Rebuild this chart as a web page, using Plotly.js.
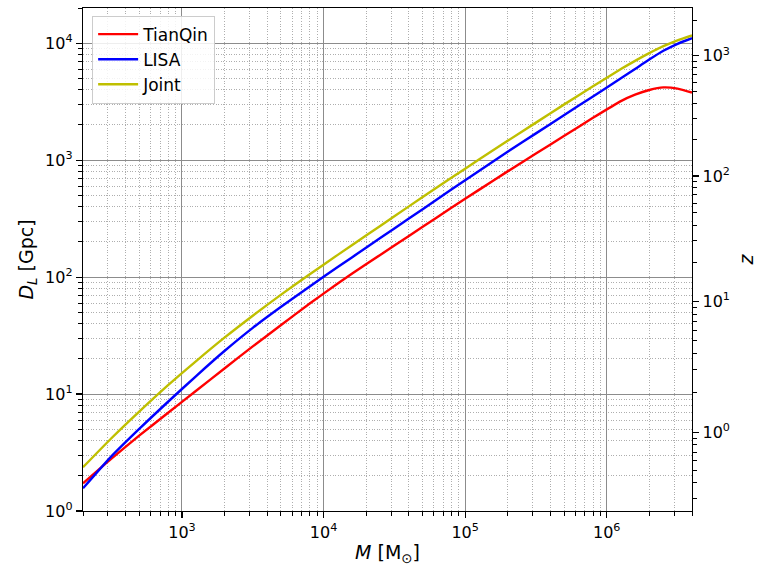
<!DOCTYPE html>
<html>
<head>
<meta charset="utf-8">
<script src="https://cdn.plot.ly/plotly-3.0.1.min.js"></script>
<style>html,body{margin:0;padding:0;background:#fff;}#chart{width:757px;height:566px;}</style>
</head>
<body>
<div id="chart"></div>
<script>
// Total mass M [solar masses]
const mass = [200, 316, 501, 794, 1259, 1995, 3162, 5012, 7943, 12590, 19950, 31620, 50120, 79430,
  125900, 199500, 316200, 501200, 794300, 1259000, 1585000, 1995000, 2512000, 3162000, 4000000];
// Horizon luminosity distance D_L [Gpc]
const tianqin = [1.726, 2.793, 4.432, 6.879, 10.67, 16.52, 25.59, 38.90, 59.16, 88.10, 128.8, 186.2, 269.2, 389.0,
  559.8, 801.7, 1138, 1614, 2291, 3199, 3631, 3981, 4188, 4093, 3784];
const lisa = [1.563, 2.917, 5.058, 8.551, 14.26, 23.33, 36.81, 55.72, 82.79, 121.9, 178.2, 260.6, 381.1, 557.2,
  812.8, 1180, 1694, 2432, 3491, 5012, 6026, 7244, 8610, 9886, 11041];
const joint = [2.366, 4.169, 7.112, 11.86, 19.14, 30.34, 46.77, 70.79, 105.2, 154.9, 226.5, 331.1, 484.2, 703.1,
  1016, 1462, 2094, 2999, 4256, 6012, 7063, 8222, 9441, 10593, 11668];

const seriesNames = ['TianQin', 'LISA', 'Joint'];
const seriesColors = ['#ff0000', '#0000ff', '#bfbf00'];

// tick labels
const xMajor = [1e3, 1e4, 1e5, 1e6];
const xMajorText = ['10<sup>3</sup>', '10<sup>4</sup>', '10<sup>5</sup>', '10<sup>6</sup>'];
const yMajor = [1, 10, 100, 1000, 10000];
const yMajorText = ['10<sup>0</sup>', '10<sup>1</sup>', '10<sup>2</sup>', '10<sup>3</sup>', '10<sup>4</sup>'];
const zMajor = [1, 10, 100, 1000];
const zMajorText = ['10<sup>0</sup>', '10<sup>1</sup>', '10<sup>2</sup>', '10<sup>3</sup>'];

// redshift -> luminosity distance mapping used for the right axis (Gpc)
const hubbleDist = 4.03;
function dl(z) { return 2 * hubbleDist * (1 + z) * (1 - 1 / Math.sqrt(1 + z)); }

function logMinors(lo, hi) {
  const out = [];
  for (let d = lo; d < hi; d *= 10) for (let k = 2; k <= 9; k++) out.push(d * k);
  return out;
}
const xMinor = logMinors(100, 1e7);
const yMinor = logMinors(1, 1e5);
const zMinorZ = [];
for (let d = 0.1; d < 1e4; d *= 10) for (let k = 2; k <= 9; k++) zMinorZ.push(d * k);
const zMinorVals = zMinorZ.map(dl).filter(v => v > 1 && v < 2e4);

const seriesData = [tianqin, lisa, joint];
const traces = seriesData.map((ys, i) => ({
  x: mass, y: ys, type: 'scatter', mode: 'lines', name: seriesNames[i],
  line: {color: seriesColors[i], width: 2.4, shape: 'spline', smoothing: 0.6}
}));
traces.push({x: [], y: [], yaxis: 'y2', type: 'scatter', mode: 'lines', showlegend: false, hoverinfo: 'skip'});

const tickFont = {family: 'DejaVu Sans, sans-serif', size: 16, color: '#000'};
const titleFont = {family: 'DejaVu Sans, sans-serif', size: 19, color: '#000'};
const xr = [Math.log10(200), Math.log10(4e6)];
const yr = [0, Math.log10(2e4)];
const minorGrid = {showgrid: true, gridcolor: '#9a9a9a', gridwidth: 0.8, griddash: '1px,1.6px'};

const layout = {
  width: 757, height: 566,
  margin: {l: 83, r: 65, t: 8, b: 55},
  paper_bgcolor: '#fff', plot_bgcolor: '#fff',
  font: tickFont,
  showlegend: true,
  legend: {x: 0.015, y: 0.985, xanchor: 'left', yanchor: 'top', itemwidth: 40,
    bgcolor: 'rgba(255,255,255,0.85)', bordercolor: '#cccccc', borderwidth: 1,
    font: {family: 'DejaVu Sans, sans-serif', size: 17, color: '#000'}, tracegroupgap: 0},
  xaxis: {type: 'log', range: xr, tickmode: 'array', tickvals: xMajor, ticktext: xMajorText,
    ticks: 'outside', ticklen: 6, tickwidth: 1.2, tickcolor: '#000', tickfont: tickFont,
    showline: true, linecolor: '#000', linewidth: 1.3, mirror: true,
    showgrid: true, gridcolor: '#8c8c8c', gridwidth: 1, zeroline: false,
    minor: Object.assign({tickmode: 'array', tickvals: xMinor, ticks: 'outside', ticklen: 3.5, tickwidth: 1, tickcolor: '#000'}, minorGrid),
    title: {text: '<i>M</i> [M<sub>⊙</sub>]', font: titleFont, standoff: 6}},
  yaxis: {type: 'log', range: yr, tickmode: 'array', tickvals: yMajor, ticktext: yMajorText,
    ticks: 'outside', ticklen: 6, tickwidth: 1.2, tickcolor: '#000', tickfont: tickFont,
    showline: true, linecolor: '#000', linewidth: 1.3, mirror: true,
    showgrid: true, gridcolor: '#8c8c8c', gridwidth: 1, zeroline: false,
    minor: Object.assign({tickmode: 'array', tickvals: yMinor, ticks: 'outside', ticklen: 3.5, tickwidth: 1, tickcolor: '#000'}, minorGrid),
    title: {text: '<i>D</i><sub><i>L</i></sub> [Gpc]', font: titleFont, standoff: 6}},
  yaxis2: {type: 'log', range: yr, overlaying: 'y', side: 'right', anchor: 'x',
    tickmode: 'array', tickvals: zMajor.map(dl), ticktext: zMajorText, tickfont: tickFont,
    ticks: 'outside', ticklen: 6, tickwidth: 1.2, tickcolor: '#000',
    showline: true, linecolor: '#000', linewidth: 1.3, showgrid: false, zeroline: false,
    minor: {tickmode: 'array', tickvals: zMinorVals, ticks: 'outside', ticklen: 3.5, tickwidth: 1, tickcolor: '#000', showgrid: false},
    title: {text: '<i>z</i>', font: titleFont, standoff: 10}}
};

Plotly.newPlot('chart', traces, layout, {displayModeBar: false, staticPlot: true});
</script>
</body>
</html>
